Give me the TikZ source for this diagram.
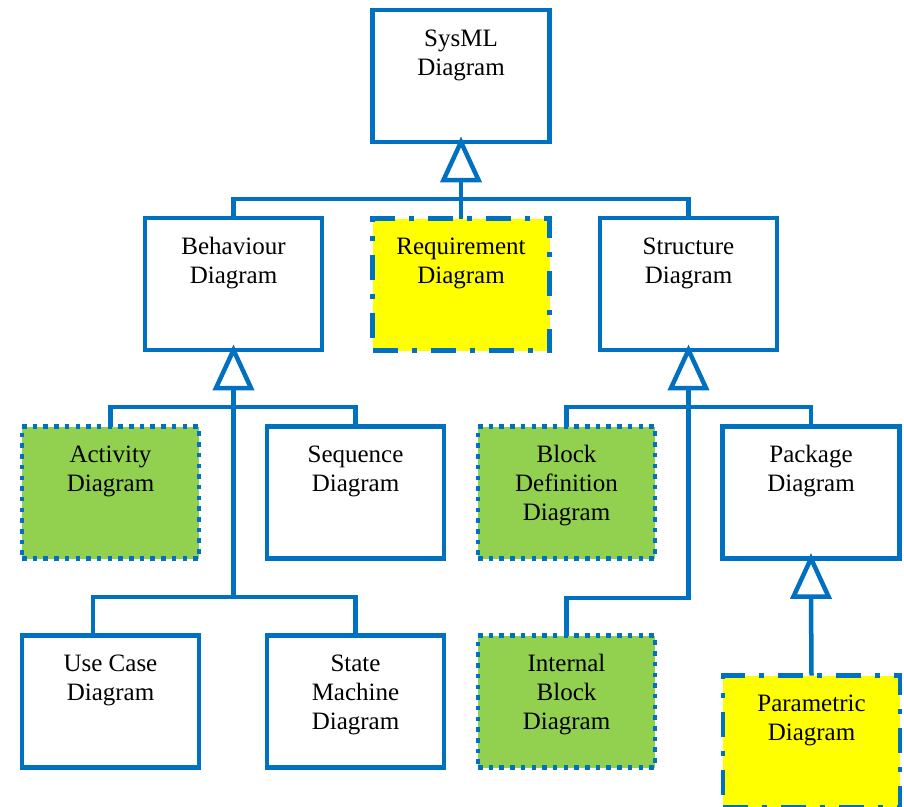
\documentclass[tikz,border=0pt]{standalone}
\usepackage{fontspec}
\setmainfont{Liberation Serif}
\usetikzlibrary{calc}
\definecolor{sysblue}{HTML}{0070C0}
\definecolor{sysgreen}{HTML}{92D050}
\definecolor{sysyellow}{HTML}{FFFF00}
\newcommand{\boxtext}[1]{\parbox[c][132pt][t]{177pt}{\centering\fontsize{25}{29}\selectfont\vspace*{16pt}\strut #1}}
\tikzset{
  diagbox/.style={draw=sysblue, line width=4.5pt, fill=white, inner sep=0pt, outer sep=0pt,
    minimum width=177pt, minimum height=132pt, line join=miter},
  dotbox/.style={diagbox, fill=sysgreen, dash pattern=on 4.5pt off 6.2pt},
  dashdotbox/.style={diagbox, fill=sysyellow, dash pattern=on 25pt off 14pt on 5pt off 14pt},
  conn/.style={draw=sysblue, line width=4.5pt, line join=miter},
  gentri/.style={draw=sysblue, line width=4.5pt, fill=white, line join=miter},
}
\begin{document}
\begin{tikzpicture}[x=1pt,y=-1pt]
\useasboundingbox (0,0) rectangle (904,806);
% boxes
\node[diagbox] (sys) at (461,76) {\boxtext{SysML\\Diagram}};
\node[diagbox] (beh) at (233.5,284) {\boxtext{Behaviour\\Diagram}};
\node[dashdotbox] (req) at (461,284.5) {\boxtext{Requirement\\Diagram}};
\node[diagbox] (str) at (688.5,284) {\boxtext{Structure\\Diagram}};
\node[dotbox] (act) at (110.5,492.5) {\boxtext{Activity\\Diagram}};
\node[diagbox] (seq) at (355.5,492.5) {\boxtext{Sequence\\Diagram}};
\node[dotbox] (bdd) at (566.5,492.5) {\boxtext{Block\\Definition\\Diagram}};
\node[diagbox] (pkg) at (811,492.5) {\boxtext{Package\\Diagram}};
\node[diagbox] (uc) at (110.5,701.5) {\boxtext{Use Case\\Diagram}};
\node[diagbox] (stm) at (355.5,701.5) {\boxtext{State\\Machine\\Diagram}};
\node[dotbox] (ibd) at (566.5,701.5) {\boxtext{Internal\\Block\\Diagram}};
\node[dashdotbox] (par) at (811.5,741.5) {\boxtext{Parametric\\Diagram}};
% connectors: SysML
\coordinate (t1) at ($(sys.south)+(0,38)$);
\coordinate (b1) at ($(t1)+(0,19)$);
\draw[conn] (t1) -- (b1);
\draw[conn] (beh.north) -- (beh.north |- b1) -- (str.north |- b1) -- (str.north);
\draw[conn] (b1) -- (req.north);
% Behaviour
\coordinate (t2) at ($(beh.south)+(0,38)$);
\coordinate (b2) at ($(t2)+(0,19)$);
\coordinate (b3) at ($(t2)+(0,209)$);
\draw[conn] (act.north) -- (act.north |- b2) -- (seq.north |- b2) -- (seq.north);
\draw[conn] (t2) -- (b3);
\coordinate (ucin) at ($(uc.north)+(-17.5,0)$);
\draw[conn] (ucin) -- (ucin |- b3) -- (stm.north |- b3) -- (stm.north);
% Structure
\coordinate (t3) at ($(str.south)+(0,38)$);
\coordinate (b4) at ($(t3)+(0,19)$);
\coordinate (b5) at ($(t3)+(0,210)$);
\draw[conn] (bdd.north) -- (bdd.north |- b4) -- (pkg.north |- b4) -- (pkg.north);
\draw[conn] (t3) -- (b5) -- (ibd.north |- b5) -- (ibd.north);
% Package
\coordinate (t4) at ($(pkg.south)+(0,38)$);
\draw[conn] (t4) -- (par.north);
% generalization triangles
\draw[gentri] (sys.south) -- ++(-17.5,38) -- ++(35,0) -- cycle;
\draw[gentri] (beh.south) -- ++(-17.5,38) -- ++(35,0) -- cycle;
\draw[gentri] (str.south) -- ++(-17.5,38) -- ++(35,0) -- cycle;
\draw[gentri] (pkg.south) -- ++(-17.5,38) -- ++(35,0) -- cycle;
\end{tikzpicture}
\end{document}
